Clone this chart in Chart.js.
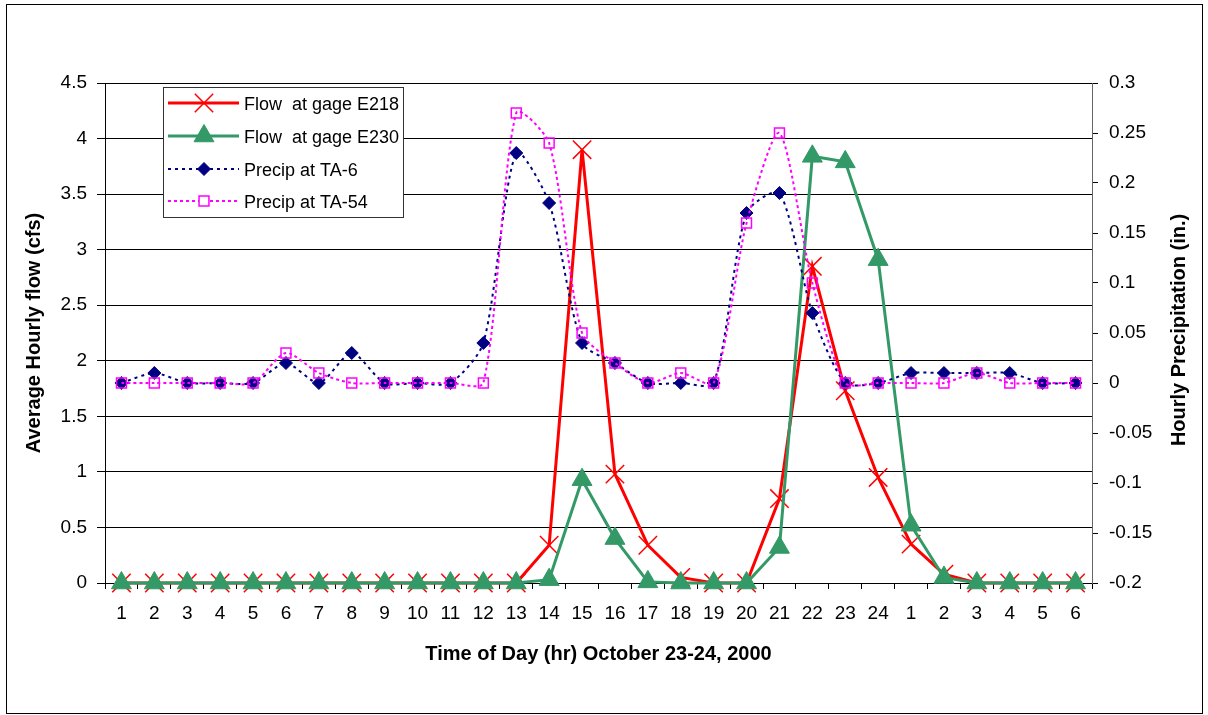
<!DOCTYPE html>
<html>
<head>
<meta charset="utf-8">
<title>Hourly flow and precipitation</title>
<script src="https://cdn.jsdelivr.net/npm/chart.js"></script>
<style>
  body { margin: 0; background: #fff; }
</style>
</head>
<body>
<canvas id="flowChart" width="1208" height="715"></canvas>
<script>
// hour of day, Oct 23 (1-24) then Oct 24 (1-6)
const hours = ['1','2','3','4','5','6','7','8','9','10','11','12','13','14','15','16','17','18','19','20','21','22','23','24','1','2','3','4','5','6'];

// average hourly flow (cfs)
const flowE218 = [0,0,0,0,0,0,0,0,0,0,0,0,0,0.34,3.9,0.98,0.34,0.05,0,0,0.76,2.85,1.73,0.95,0.35,0.08,0,0,0,0];
const flowE230 = [0,0,0,0,0,0,0,0,0,0,0,0,0,0.03,0.93,0.40,0.01,0,0,0,0.32,3.84,3.79,2.91,0.52,0.05,0,0,0,0];

// hourly precipitation (in.)
const precipTA6  = [0,0.01,0,0,0,0.02,0,0.03,0,0,0,0.04,0.23,0.18,0.04,0.02,0,0,0,0.17,0.19,0.07,0,0,0.01,0.01,0.01,0.01,0,0];
const precipTA54 = [0,0,0,0,0,0.03,0.01,0,0,0,0,0,0.27,0.24,0.05,0.02,0,0.01,0,0.16,0.25,0.10,0,0,0,0,0.01,0,0,0];

// axis ranges
const flowMin = 0, flowMax = 4.5, flowStep = 0.5;
const rainMin = -0.2, rainMax = 0.3, rainStep = 0.05;

const FONT = "'Liberation Sans', Arial, sans-serif";
Chart.defaults.font.family = FONT;
Chart.defaults.font.size = 19;
Chart.defaults.color = '#000';

const fmt = v => parseFloat(Number(v).toFixed(2)).toString();

// outer frame, axis titles and the boxed legend
const frame = {
  id: 'frame',
  beforeDraw(chart) {
    const ctx = chart.ctx;
    ctx.save();
    ctx.fillStyle = '#fff';
    ctx.fillRect(0, 0, chart.width, chart.height);
    ctx.strokeStyle = '#000';
    ctx.lineWidth = 1;
    ctx.strokeRect(6.5, 4.5, 1196, 709);
    ctx.restore();
  },
  afterDraw(chart) {
    const ctx = chart.ctx;
    const area = chart.chartArea;
    const midY = (area.top + area.bottom) / 2;
    ctx.save();
    ctx.fillStyle = '#000';
    ctx.font = 'bold 20px ' + FONT;
    ctx.textAlign = 'center';
    ctx.textBaseline = 'middle';

    ctx.save();
    ctx.translate(34, midY);
    ctx.rotate(-Math.PI / 2);
    ctx.fillText('Average Hourly flow (cfs)', 0, 0);
    ctx.restore();

    ctx.save();
    ctx.translate(1179, midY - 3);
    ctx.rotate(-Math.PI / 2);
    ctx.fillText('Hourly Precipitation (in.)', 0, 0);
    ctx.restore();

    ctx.textBaseline = 'alphabetic';
    ctx.fillText('Time of Day (hr) October 23-24, 2000', (area.left + area.right) / 2, 660);

    // legend box
    const bx = 163, by = 87, bw = 240, bh = 130;
    ctx.fillStyle = '#fff';
    ctx.fillRect(bx, by, bw, bh);
    ctx.strokeStyle = '#333';
    ctx.lineWidth = 1;
    ctx.strokeRect(bx + 0.5, by + 0.5, bw, bh);

    const rows = [103, 136, 169, 201];
    chart.data.datasets.forEach((ds, i) => {
      const cy = rows[i];
      ctx.save();
      ctx.strokeStyle = ds.borderColor;
      ctx.lineWidth = ds.borderWidth;
      ctx.setLineDash(ds.borderDash || []);
      ctx.beginPath();
      ctx.moveTo(168, cy);
      ctx.lineTo(239, cy);
      ctx.stroke();
      ctx.setLineDash([]);
      ctx.strokeStyle = ds.pointBorderColor;
      ctx.fillStyle = ds.pointBackgroundColor === 'transparent' ? '#fff' : ds.pointBackgroundColor;
      ctx.lineWidth = ds.pointBorderWidth;
      if (Chart.helpers && Chart.helpers.drawPoint) {
        Chart.helpers.drawPoint(ctx, {
          pointStyle: ds.pointStyle,
          radius: ds.pointRadius,
          rotation: 0,
          borderWidth: ds.pointBorderWidth
        }, 204, cy);
      }
      ctx.restore();
      ctx.fillStyle = '#000';
      ctx.font = '18px ' + FONT;
      ctx.textAlign = 'left';
      ctx.fillText(ds.label, 244, cy + 6.5);
    });
    ctx.restore();
  }
};

new Chart(document.getElementById('flowChart'), {
  type: 'line',
  data: {
    labels: hours,
    datasets: [
      {
        label: 'Flow  at gage E218',
        data: flowE218,
        yAxisID: 'y',
        order: 3,
        borderColor: '#ff0000',
        borderWidth: 3,
        tension: 0,
        pointStyle: 'crossRot',
        pointRadius: 13,
        pointBorderWidth: 1.5,
        pointBorderColor: '#ff0000',
        pointBackgroundColor: '#ff0000',
        clip: false
      },
      {
        label: 'Flow  at gage E230',
        data: flowE230,
        yAxisID: 'y',
        order: 2,
        borderColor: '#339966',
        borderWidth: 3,
        tension: 0,
        pointStyle: 'triangle',
        pointRadius: 11.5,
        pointBorderWidth: 1,
        pointBorderColor: '#339966',
        pointBackgroundColor: '#339966',
        clip: false
      },
      {
        label: 'Precip at TA-6',
        data: precipTA6,
        yAxisID: 'y1',
        order: 1,
        borderColor: '#000080',
        borderWidth: 2,
        borderDash: [3, 4],
        tension: 0.25,
        pointStyle: 'rectRot',
        pointRadius: 6.5,
        pointBorderWidth: 1,
        pointBorderColor: '#000080',
        pointBackgroundColor: '#000080',
        clip: false
      },
      {
        label: 'Precip at TA-54',
        data: precipTA54,
        yAxisID: 'y1',
        order: 0,
        borderColor: '#ff00ff',
        borderWidth: 2,
        borderDash: [3, 3],
        tension: 0.25,
        pointStyle: 'rect',
        pointRadius: 7,
        pointBorderWidth: 1.5,
        pointBorderColor: '#ff00ff',
        pointBackgroundColor: 'transparent',
        clip: false
      }
    ]
  },
  options: {
    responsive: false,
    animation: false,
    layout: { padding: { top: 83, left: 0, right: 0, bottom: 0 } },
    plugins: {
      legend: { display: false },
      tooltip: { enabled: false }
    },
    scales: {
      x: {
        offset: true,
        grid: { offset: true, drawOnChartArea: false, tickLength: 6, color: '#000' },
        border: { color: '#000' },
        ticks: { padding: 13, maxRotation: 0, autoSkip: false },
        afterFit: s => { s.height = 132; }
      },
      y: {
        position: 'left',
        min: flowMin,
        max: flowMax,
        ticks: { stepSize: flowStep, padding: 10, callback: fmt },
        grid: { color: '#000', tickLength: 8 },
        border: { color: '#000' },
        afterFit: s => { s.width = 105; }
      },
      y1: {
        position: 'right',
        min: rainMin,
        max: rainMax,
        ticks: { stepSize: rainStep, padding: 11, callback: fmt },
        grid: { drawOnChartArea: false, tickLength: 6, color: '#000' },
        border: { color: '#666' },
        afterFit: s => { s.width = 116; }
      }
    }
  },
  plugins: [frame]
});
</script>
</body>
</html>
